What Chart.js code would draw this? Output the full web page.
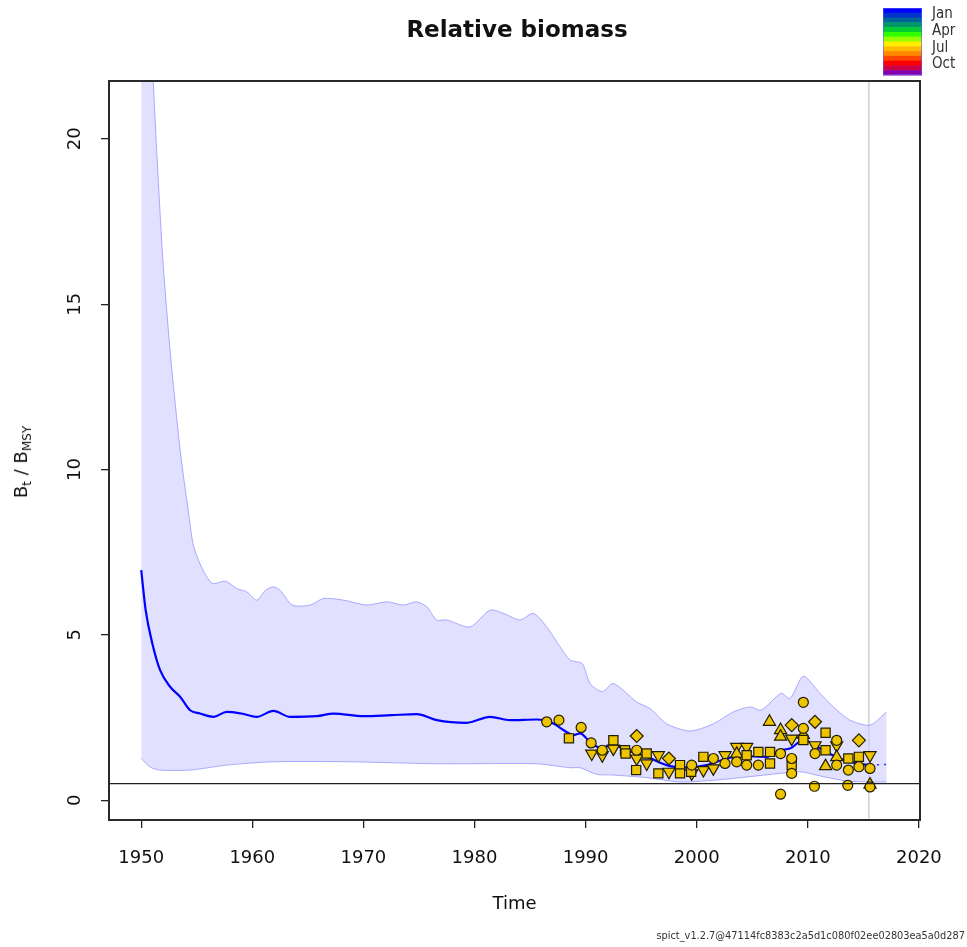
<!DOCTYPE html>
<html>
<head>
<meta charset="utf-8">
<script src="https://cdn.jsdelivr.net/npm/chart.js@4.4.1/dist/chart.umd.min.js"></script>
<style>
  html, body { margin:0; padding:0; background:#fff; }
  #wrap { position:relative; width:967px; height:947px; font-family:"DejaVu Sans", sans-serif; color:#111; overflow:hidden; }
  #chart { position:absolute; left:0; top:0; }
  .title { position:absolute; left:317px; width:400px; top:16px; text-align:center; font-weight:bold; font-size:23px; white-space:nowrap; }
  .ylab { position:absolute; left:22px; top:462px; transform:translate(-50%,-50%) rotate(-90deg); font-size:18px; white-space:nowrap; }
  .ylab sub { font-size:12px; vertical-align:-4px; }
  .month { position:absolute; left:932px; font-family:"Liberation Sans Narrow","DejaVu Sans Condensed",sans-serif; font-size:15px; color:#333; line-height:15px; }
  .foot { position:absolute; right:2px; top:930px; font-size:9.8px; color:#333; white-space:nowrap; }
</style>
</head>
<body>
<div id="wrap">
  <canvas id="chart" width="967" height="947"></canvas>
  <div class="title">Relative biomass</div>
  <div class="ylab">B<sub>t</sub> / B<sub>MSY</sub></div>
  <div class="month" style="top:6px">Jan</div>
  <div class="month" style="top:23px">Apr</div>
  <div class="month" style="top:40px">Jul</div>
  <div class="month" style="top:56px">Oct</div>
  <div class="foot">spict_v1.2.7@47114fc8383c2a5d1c080f02ee02803ea5a0d287</div>
</div>
<script>
// ---------------- DATA ----------------
const xTicks = [1950,1960,1970,1980,1990,2000,2010,2020];
const yTicks = [0,5,10,15,20];

// upper 95% CI of B/Bmsy
const upperYears = [1950.0,1951.0,1951.9,1952.6,1953.5,1954.3,1954.7,1955.5,1956.4,1957.6,1958.6,1959.5,1960.4,1961.2,1961.9,1962.5,1963.6,1965.2,1966.4,1968.2,1970.3,1972.1,1973.6,1974.8,1975.7,1976.6,1977.5,1979.6,1981.4,1982.6,1984.1,1985.3,1986.5,1987.7,1988.6,1989.7,1990.4,1991.5,1992.5,1994.6,1995.8,1997.3,1999.4,2001.5,2003.3,2004.8,2005.8,2007.6,2008.4,2009.6,2011.1,2012.3,2013.8,2015.6,2017.1];
const upperVals  = [30,22.3,16.6,13.6,10.6,8.6,7.7,7.0,6.56,6.62,6.4,6.3,6.05,6.35,6.45,6.35,5.9,5.9,6.1,6.05,5.9,6.0,5.9,6.0,5.85,5.45,5.45,5.24,5.75,5.65,5.45,5.65,5.24,4.64,4.24,4.13,3.53,3.28,3.53,2.97,2.77,2.31,2.09,2.31,2.67,2.82,2.72,3.23,3.07,3.75,3.23,2.82,2.42,2.27,2.67];

// lower 95% CI
const lowerYears = [1950.0,1950.8,1951.7,1954.4,1957.7,1961.9,1968.8,1976.6,1985.6,1988.6,1989.5,1991.0,1992.5,1995.5,1998.5,2001.5,2004.5,2007.5,2009.3,2011.4,2013.5,2015.6,2017.1];
const lowerVals  = [1.26,1.0,0.91,0.91,1.06,1.16,1.16,1.10,1.10,0.98,0.98,0.78,0.76,0.68,0.55,0.6,0.70,0.81,0.86,0.71,0.58,0.55,0.55];

// estimate
const estYears = [1950.0,1950.4,1951.0,1951.7,1952.6,1953.5,1954.4,1955.3,1956.5,1957.7,1959.0,1960.4,1961.9,1963.4,1965.8,1967.3,1970.0,1972.5,1974.8,1976.6,1979.3,1981.4,1983.2,1985.6,1987.1,1988.0,1988.9,1989.5,1990.4,1991.3,1992.5,1993.7,1995.5,1997.6,1999.1,2000.9,2002.7,2004.2,2006.3,2007.5,2008.4,2009.6,2011.1,2012.9,2014.4,2015.6];
const estVals  = [6.96,5.75,4.74,3.93,3.43,3.13,2.72,2.62,2.52,2.67,2.62,2.52,2.70,2.52,2.54,2.62,2.54,2.57,2.60,2.42,2.34,2.52,2.42,2.44,2.32,2.12,1.97,2.02,1.76,1.59,1.66,1.51,1.31,1.03,0.99,1.06,1.26,1.33,1.31,1.51,1.56,1.82,1.56,1.26,1.11,1.06];

// prediction after last data
const predYears = [2015.6,2017.1];
const predVals  = [1.06,1.08];

// observed indices, by marker shape
const circlePts = [[1986.5,2.37],[1987.6,2.42],[1989.6,2.20],[1990.5,1.73],[1991.5,1.51],[1994.6,1.51],[1999.55,1.06],[2001.5,1.26],[2002.55,1.11],[2003.6,1.16],[2004.5,1.06],[2005.55,1.06],[2007.55,1.41],[2007.55,0.18],[2008.55,1.26],[2008.55,0.81],[2009.6,2.96],[2009.6,2.17],[2010.65,1.41],[2010.6,0.42],[2012.6,1.81],[2012.6,1.06],[2013.65,0.91],[2013.6,0.45],[2014.6,1.01],[2015.6,0.96],[2015.6,0.40]];
const squarePts = [[1988.5,1.87],[1992.5,1.81],[1993.55,1.51],[1993.6,1.41],[1994.55,0.91],[1995.5,1.41],[1996.55,0.81],[1998.5,1.06],[1998.5,0.81],[1999.5,0.86],[2000.6,1.31],[2004.5,1.36],[2005.55,1.46],[2006.6,1.46],[2006.6,1.11],[2008.55,1.06],[2009.6,1.82],[2011.6,2.04],[2011.6,1.51],[2013.65,1.26],[2014.6,1.31]];
const diamondPts = [[1994.6,1.94],[1997.5,1.26],[2008.55,2.27],[2010.65,2.37],[2014.6,1.81]];
const triUpPts = [[2003.6,1.40],[2006.55,2.37],[2007.55,2.12],[2007.55,1.92],[2009.6,1.97],[2011.6,1.03],[2012.6,1.30],[2015.6,0.47]];
const triDownPts = [[1990.55,1.41],[1991.5,1.36],[1992.5,1.56],[1994.6,1.26],[1995.5,1.11],[1996.55,1.36],[1997.5,0.86],[1999.55,0.81],[2000.6,0.91],[2001.5,0.96],[2002.55,1.36],[2003.6,1.61],[2004.5,1.61],[2008.55,1.86],[2010.65,1.66],[2012.6,1.66],[2015.6,1.36]];

const refLine = 0.5;      // horizontal reference
const lastObs = 2015.5;   // vertical grey line
const monthColors = ['#0000ff','#0033cc','#00669a','#009966','#00cc33','#33ff00','#99ff00','#ffee00','#ffbb00','#ff8800','#ff4400','#ff0000','#cc0044','#8800aa'];

// ---------------- HELPERS ----------------
const toXY = (xs, ys) => xs.map((x,i)=>({x, y: ys[i]}));
const ptsXY = arr => arr.map(p=>({x:p[0], y:p[1]}));

const markerBase = {
    type:'scatter',
    showLine:false,
    backgroundColor:'#ecc400',
    borderColor:'#221c00',
    borderWidth:1.2,
    pointHoverRadius:5
};

// ---------------- PLUGIN: box, ref lines, y labels, colour bar ----------------
const extras = {
    id:'extras',
    beforeDatasetsDraw(chart){
        const {ctx, chartArea:a, scales:{x,y}} = chart;
        ctx.save();
        // vertical grey line at last observation
        const vx = x.getPixelForValue(lastObs);
        ctx.strokeStyle = '#c4c4c4';
        ctx.lineWidth = 1.2;
        ctx.beginPath(); ctx.moveTo(vx, a.top); ctx.lineTo(vx, a.bottom); ctx.stroke();
        ctx.restore();
    },
    afterDatasetsDraw(chart){
        const {ctx, chartArea:a, scales:{x,y}} = chart;
        ctx.save();
        // horizontal line at 0.5
        const hy = y.getPixelForValue(refLine);
        ctx.strokeStyle = '#222';
        ctx.lineWidth = 1.3;
        ctx.beginPath(); ctx.moveTo(a.left, hy); ctx.lineTo(a.right, hy); ctx.stroke();
        // box
        ctx.strokeStyle = '#2a2a2a';
        ctx.lineWidth = 2;
        ctx.strokeRect(a.left, a.top, a.right - a.left, a.bottom - a.top);
        // y tick labels rotated like R
        ctx.fillStyle = '#111';
        ctx.font = '18px "DejaVu Sans"';
        ctx.textAlign = 'center';
        ctx.textBaseline = 'middle';
        yTicks.forEach(v=>{
            ctx.save();
            ctx.translate(a.left - 34, y.getPixelForValue(v));
            ctx.rotate(-Math.PI/2);
            ctx.fillText(String(v), 0, 0);
            ctx.restore();
        });
        // month colour bar
        const bx = 883, by = 8, bw = 39, bh = 67;
        const step = bh / monthColors.length;
        monthColors.forEach((c,i)=>{
            ctx.fillStyle = c;
            ctx.fillRect(bx, by + i*step, bw, step + 0.5);
        });
        ctx.strokeStyle = 'rgba(90,90,255,0.6)';
        ctx.lineWidth = 1;
        ctx.strokeRect(bx + 0.5, by + 0.5, bw - 1, bh - 1);
        ctx.restore();
    }
};

// ---------------- CHART ----------------
new Chart(document.getElementById('chart').getContext('2d'), {
    type:'line',
    data:{
        datasets:[
            {
                label:'upper',
                data: toXY(upperYears, upperVals),
                borderColor:'rgba(110,110,255,0.55)',
                borderWidth:1,
                backgroundColor:'rgba(205,205,255,0.6)',
                pointRadius:0,
                fill:'+1',
                tension:0.25,
                order:5
            },
            {
                label:'lower',
                data: toXY(lowerYears, lowerVals),
                borderColor:'rgba(110,110,255,0.55)',
                borderWidth:1,
                pointRadius:0,
                fill:false,
                tension:0.25,
                order:4
            },
            {
                label:'estimate',
                data: toXY(estYears, estVals),
                borderColor:'#0000ff',
                borderWidth:2.2,
                pointRadius:0,
                fill:false,
                cubicInterpolationMode:'monotone',
                order:3
            },
            {
                label:'prediction',
                data: toXY(predYears, predVals),
                borderColor:'#3333ff',
                borderWidth:1.5,
                borderDash:[2,5],
                pointRadius:0,
                fill:false,
                order:3
            },
            Object.assign({}, markerBase, {label:'circle', data:ptsXY(circlePts), pointStyle:'circle', pointRadius:5, order:1}),
            Object.assign({}, markerBase, {label:'square', data:ptsXY(squarePts), pointStyle:'rect', pointRadius:6.5, order:1}),
            Object.assign({}, markerBase, {label:'diamond', data:ptsXY(diamondPts), pointStyle:'rectRot', pointRadius:6.5, order:1}),
            Object.assign({}, markerBase, {label:'triUp', data:ptsXY(triUpPts), pointStyle:'triangle', pointRadius:7, order:1}),
            Object.assign({}, markerBase, {label:'triDown', data:ptsXY(triDownPts), pointStyle:'triangle', rotation:180, pointRadius:7, order:1})
        ]
    },
    options:{
        responsive:false,
        animation:false,
        layout:{ padding:{ left:0, right:47, top:81, bottom:0 } },
        plugins:{
            legend:{ display:false },
            tooltip:{ enabled:false }
        },
        scales:{
            x:{
                type:'linear',
                min:1947.1,
                max:2020.1,
                afterBuildTicks: s => { s.ticks = xTicks.map(v=>({value:v})); },
                afterFit: s => { s.height = 127; },
                grid:{ display:true, drawOnChartArea:false, drawTicks:true, tickLength:8, color:'#222', lineWidth:1.3 },
                border:{ display:false },
                ticks:{ color:'#111', font:{ size:18, family:'DejaVu Sans' }, padding:20, maxRotation:0, callback: v => String(v) },
                title:{ display:true, text:'Time', color:'#111', font:{ size:18, family:'DejaVu Sans' }, padding:{ top:0, bottom:32 } }
            },
            y:{
                type:'linear',
                min:-0.6,
                max:21.75,
                afterBuildTicks: s => { s.ticks = yTicks.map(v=>({value:v})); },
                afterFit: s => { s.width = 109; },
                grid:{ display:true, drawOnChartArea:false, drawTicks:true, tickLength:8, color:'#222', lineWidth:1.3 },
                border:{ display:false },
                ticks:{ display:false }
            }
        }
    },
    plugins:[extras]
});
</script>
</body>
</html>
